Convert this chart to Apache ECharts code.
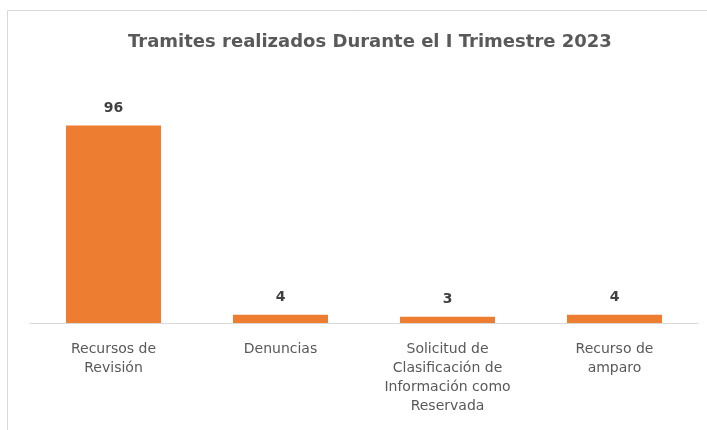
<!DOCTYPE html>
<html>
<head>
<meta charset="utf-8">
<script src="https://cdn.jsdelivr.net/npm/echarts@6/dist/echarts.min.js"></script>
<style>
  html, body { margin: 0; padding: 0; background: #fff; }
  #main { width: 707px; height: 430px; }
</style>
</head>
<body>
<div id="main"></div>
<script>
// categorias y valores
var categorias = [
    'Recursos de\nRevisión',
    'Denuncias',
    'Solicitud de\nClasificación de\nInformación como\nReservada',
    'Recurso de\namparo'
];
var valores = [96, 4, 3, 4];

var myChart = echarts.init(document.getElementById('main'));

var option = {
    backgroundColor: '#fff',
    title: {
        text: 'Tramites realizados Durante el I Trimestre 2023',
        left: 123,
        top: 28,
        textStyle: {
            fontFamily: 'DejaVu Sans',
            fontSize: 18,
            fontWeight: 'bold',
            color: '#595959'
        }
    },
    // marco del grafico
    graphic: [{
        type: 'rect',
        shape: { x: 7.5, y: 10.5, width: 720, height: 440 },
        style: { fill: 'none', stroke: '#d9d9d9', lineWidth: 1 },
        silent: true
    }],
    grid: {
        left: 30,
        right: 9,
        top: 76,
        bottom: 107
    },
    xAxis: {
        type: 'category',
        data: categorias,
        axisLine: { lineStyle: { color: '#d9d9d9', width: 1 } },
        axisTick: { show: false },
        axisLabel: {
            interval: 0,
            margin: 17,
            fontFamily: 'DejaVu Sans',
            fontSize: 14,
            lineHeight: 19,
            color: '#595959'
        }
    },
    yAxis: {
        type: 'value',
        min: 0,
        max: 120,
        show: false
    },
    series: [{
        type: 'bar',
        data: valores,
        barWidth: 95,
        itemStyle: { color: '#ED7D31' },
        label: {
            show: true,
            position: 'top',
            distance: 10,
            fontFamily: 'DejaVu Sans',
            fontSize: 14,
            fontWeight: 'bold',
            color: '#404040'
        }
    }]
};

myChart.setOption(option);
</script>
</body>
</html>
